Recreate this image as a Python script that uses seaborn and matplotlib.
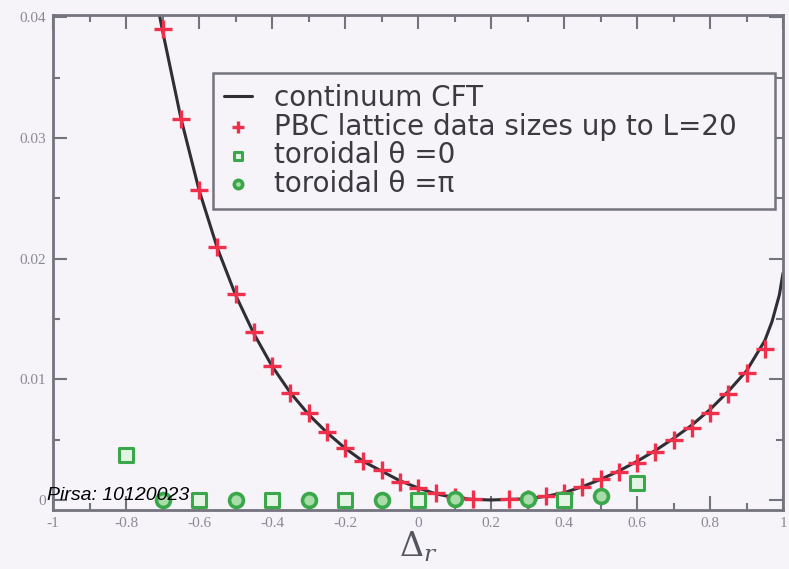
import numpy as np
import pandas as pd
import matplotlib
matplotlib.use("Agg")
import matplotlib.pyplot as plt
import seaborn as sns

# continuum CFT curve
cft_x = [-0.72, -0.70, -0.65, -0.60, -0.55, -0.50, -0.45, -0.40, -0.35, -0.30,
         -0.25, -0.20, -0.15, -0.10, -0.05, 0.00, 0.05, 0.10, 0.15, 0.20,
         0.25, 0.30, 0.35, 0.40, 0.45, 0.50, 0.55, 0.60, 0.65, 0.70,
         0.75, 0.80, 0.85, 0.90, 0.95, 0.97, 0.99, 1.00]
cft_y = [0.0420, 0.0389, 0.0317, 0.0257, 0.0209, 0.0170, 0.0138, 0.0111, 0.0089, 0.0071,
         0.0056, 0.0043, 0.0032, 0.0024, 0.0016, 0.0010, 0.0005, 0.0002, 0.00005, 0.0,
         0.00005, 0.0001, 0.0003, 0.0006, 0.0011, 0.0017, 0.0024, 0.0032, 0.0041, 0.0051,
         0.0062, 0.0075, 0.0090, 0.0107, 0.0132, 0.0148, 0.0170, 0.0188]

# PBC lattice data
pbc_x = [-0.70, -0.65, -0.60, -0.55, -0.50, -0.45, -0.40, -0.35, -0.30, -0.25,
         -0.20, -0.15, -0.10, -0.05, 0.00, 0.05, 0.10, 0.15, 0.25, 0.30,
         0.35, 0.40, 0.45, 0.50, 0.55, 0.60, 0.65, 0.70, 0.75, 0.80,
         0.85, 0.90, 0.95]
pbc_y = [0.0390, 0.0316, 0.0257, 0.0210, 0.0171, 0.0139, 0.0111, 0.0089, 0.0072, 0.0056,
         0.0043, 0.0032, 0.0025, 0.0015, 0.0010, 0.0006, 0.00025, 0.0001, 0.00004, 0.0001,
         0.0003, 0.0006, 0.0011, 0.0017, 0.0023, 0.0031, 0.0040, 0.0050, 0.0060, 0.0072,
         0.0088, 0.0105, 0.0125]

# toroidal theta = 0
sq_x = [-0.8, -0.6, -0.4, -0.2, 0.0, 0.4, 0.6]
sq_y = [0.0037, 0.0, 0.0, 0.0, 0.0, 0.0, 0.0014]

# toroidal theta = pi
ci_x = [-0.7, -0.5, -0.3, -0.1, 0.1, 0.3, 0.5]
ci_y = [0.0, 0.0, 0.0, 0.0, 0.00012, 0.0001, 0.0003]

xticks = [-1, -0.8, -0.6, -0.4, -0.2, 0, 0.2, 0.4, 0.6, 0.8, 1]
xlabels = ["-1", "-0.8", "-0.6", "-0.4", "-0.2", "0", "0.2", "0.4", "0.6", "0.8", "1"]
yticks = [0, 0.01, 0.02, 0.03, 0.04]
ylabels = ["0", "0.01", "0.02", "0.03", "0.04"]

bg = "#f6f3f9"
grey = "#74747e"
red = "#f0304a"
green = "#3aa84a"

sns.set_style("ticks")
plt.rcParams["font.family"] = ["DejaVu Sans"]
plt.rcParams["mathtext.fontset"] = "dejavuserif"

fig = plt.figure(figsize=(7.89, 5.69), dpi=100, facecolor=bg)
ax = fig.add_axes([0.0672, 0.1037, 0.9252, 0.8699])
ax.set_facecolor(bg)

cft = pd.DataFrame({"x": cft_x, "y": cft_y})
pbc = pd.DataFrame({"x": pbc_x, "y": pbc_y})
sq = pd.DataFrame({"x": sq_x, "y": sq_y})
ci = pd.DataFrame({"x": ci_x, "y": ci_y})

sns.lineplot(data=cft, x="x", y="y", ax=ax, color="#2e2e34", lw=2.2,
             sort=False, estimator=None, label="continuum CFT", zorder=2)
sns.scatterplot(data=pbc, x="x", y="y", ax=ax, marker="+", color=red, s=180,
                linewidth=2.4, label="PBC lattice data sizes up to L=20", zorder=3)
sns.scatterplot(data=sq, x="x", y="y", ax=ax, marker="s", fc="#e4f4e4", ec=green,
                s=100, linewidth=2.2, label="toroidal \u03b8 =0", zorder=3)
sns.scatterplot(data=ci, x="x", y="y", ax=ax, marker="o", fc="#a8dca8", ec=green,
                s=100, linewidth=2.6, label="toroidal \u03b8 =\u03c0", zorder=3)

ax.set_xlim(-1, 1)
ax.set_ylim(-0.00083, 0.0402)
ax.set_xticks(xticks)
ax.set_xticklabels(xlabels)
ax.set_yticks(yticks)
ax.set_yticklabels(ylabels)
ax.set_xticks(np.arange(-0.9, 1.0, 0.2), minor=True)
ax.set_yticks([0.005, 0.015, 0.025, 0.035], minor=True)
ax.tick_params(which="both", direction="in", top=True, right=True, color=grey,
               width=1.5, labelcolor="#8a8a95")
ax.tick_params(which="major", length=10, pad=5)
ax.tick_params(which="minor", length=5)
for lab in ax.get_xticklabels() + ax.get_yticklabels():
    lab.set_family("Liberation Serif")
    lab.set_fontsize(11)
for sp in ax.spines.values():
    sp.set_color(grey)
    sp.set_linewidth(2)

ax.set_xlabel("$\\Delta_r$", fontsize=24, color="#55555d", labelpad=0)
ax.set_ylabel("")

leg = ax.legend(loc="upper left", bbox_to_anchor=(0.219, 0.604, 0.77, 0.279),
                mode="expand", borderaxespad=0, fancybox=False, frameon=True,
                framealpha=1, facecolor=bg, edgecolor=grey, fontsize=20,
                handlelength=1.0, handletextpad=0.8, labelspacing=0.02,
                borderpad=0.4, markerscale=0.6)
leg.get_frame().set_linewidth(1.8)
for t in leg.get_texts():
    t.set_color("#3a3a40")

fig.text(47 / 789, 1 - 500 / 569, "Pirsa: 10120023", fontsize=14, style="italic",
         family="Liberation Sans", color="black", ha="left", va="baseline")

fig.savefig("out.png", dpi=100, facecolor=bg)
